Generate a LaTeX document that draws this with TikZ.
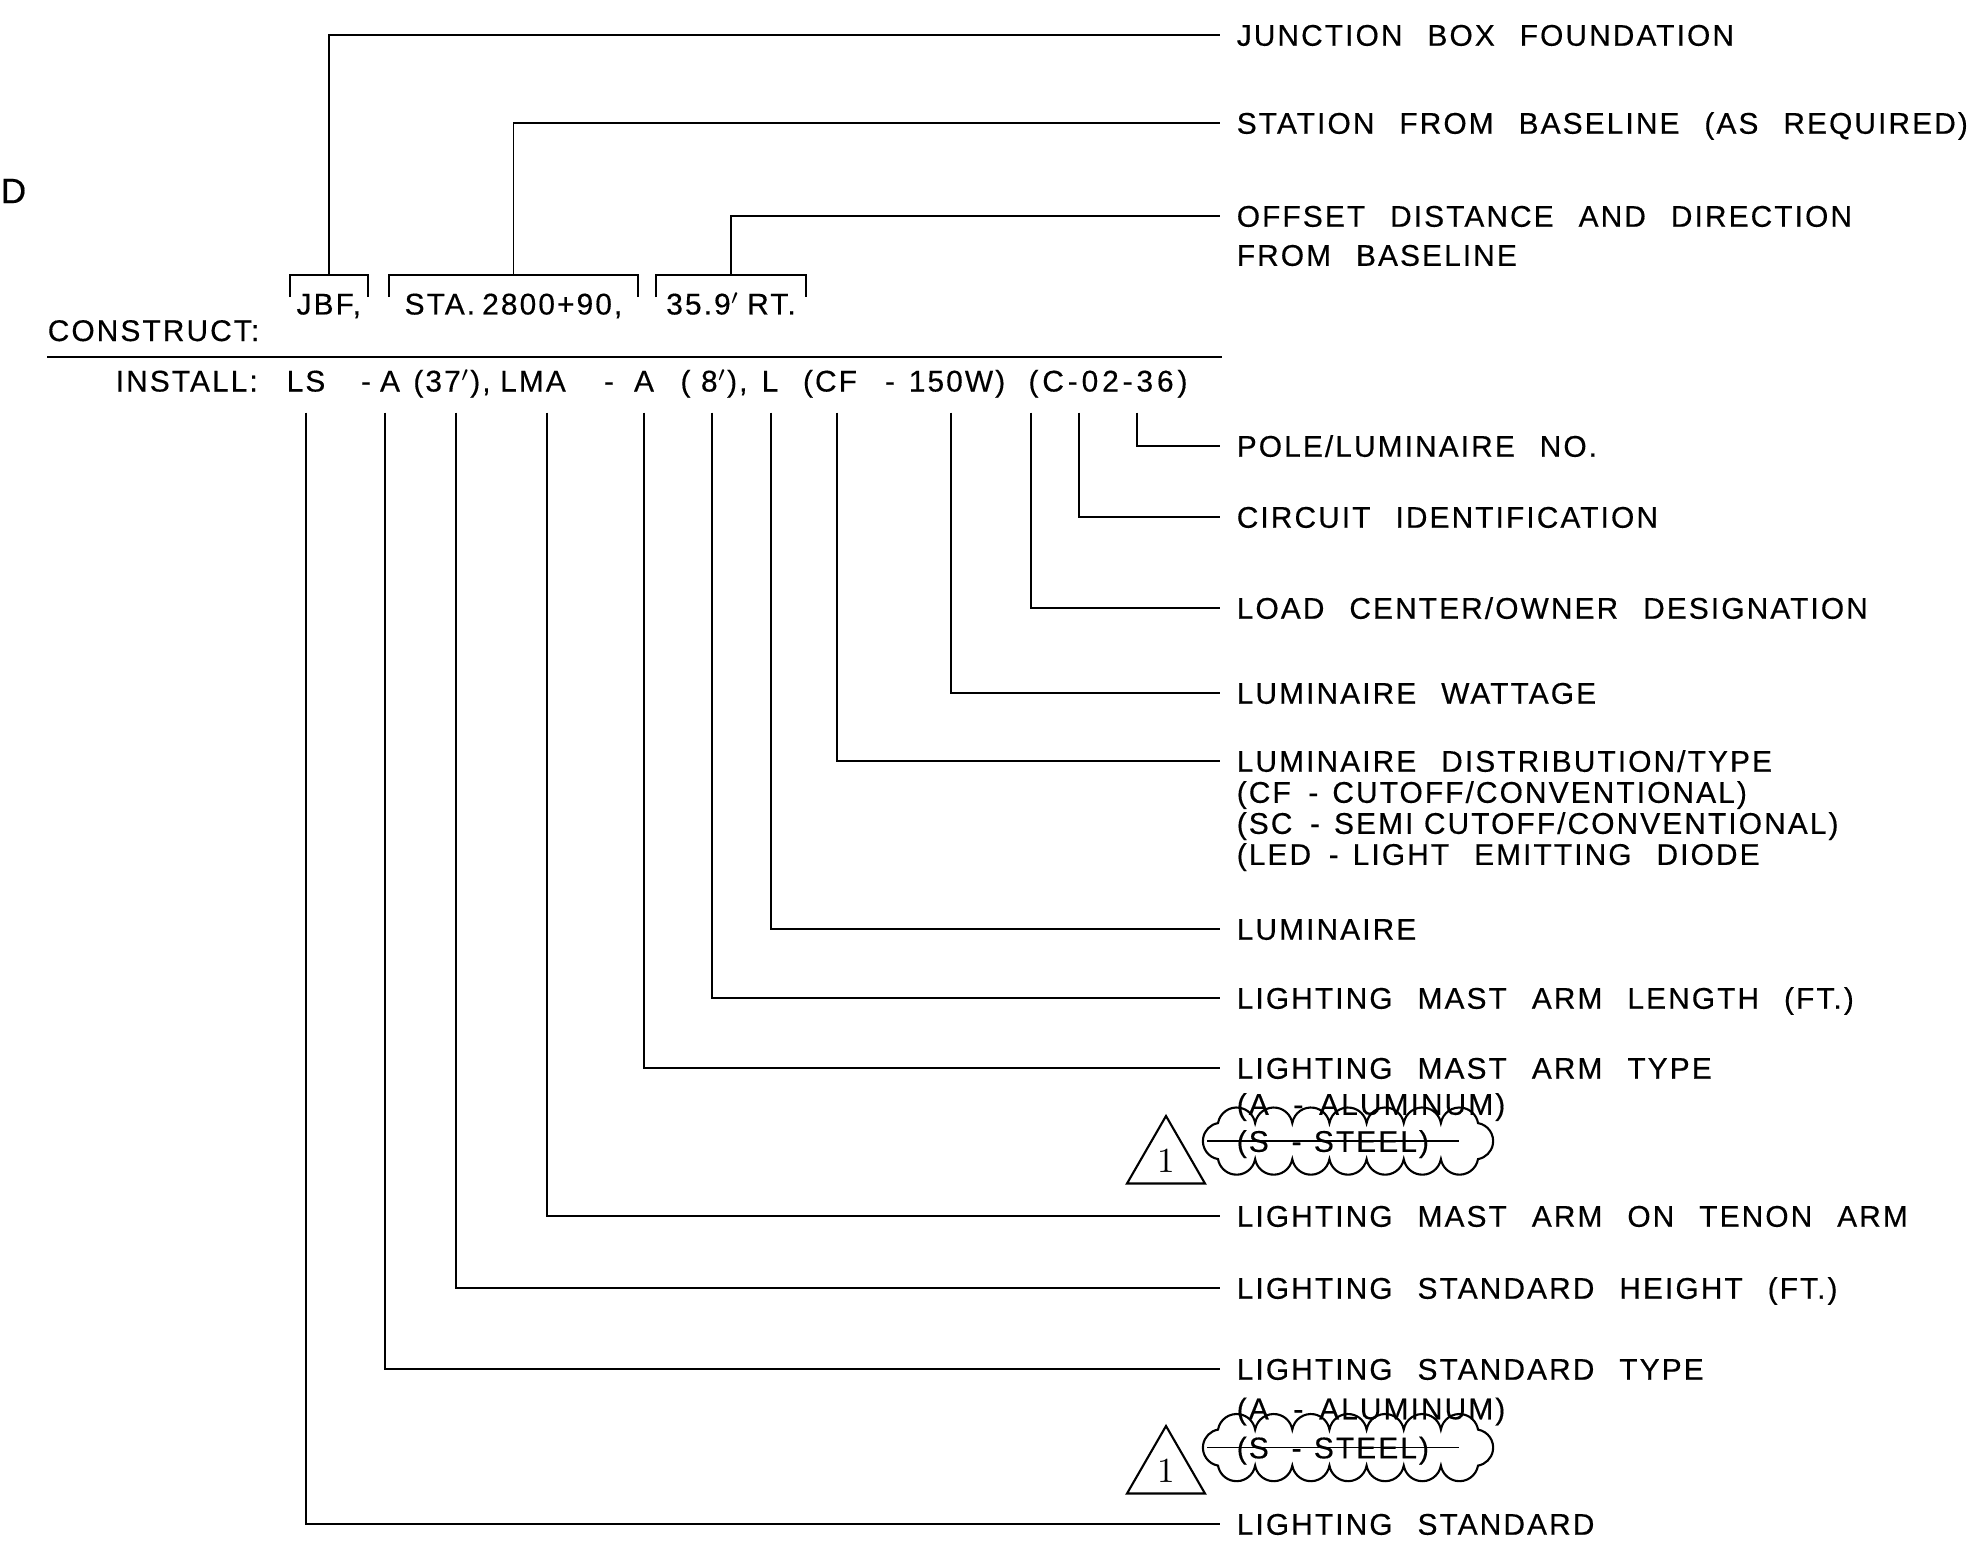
\documentclass[tikz,border=0pt]{standalone}
\usepackage{fontspec}
\newfontfamily\cadfont{Liberation Sans}[LetterSpace=7,WordSpace=2.4,FakeBold=0.4]
\usetikzlibrary{positioning,calc,shapes.geometric}
\newcommand\sgl{\hspace{4pt}}

\tikzset{
    revcloud/.pic={
        \draw [line width=0.6pt] (-130,18)
            \foreach \i in {1,...,7}{ arc[start angle=170, end angle=10, radius=18.86] }
            arc[start angle=80, end angle=-80, radius=18.28]
            \foreach \i in {1,...,7}{ arc[start angle=-10, end angle=-170, radius=18.86] }
            arc[start angle=260, end angle=100, radius=18.28] -- cycle;
    }
}

\begin{document}
\begin{tikzpicture}[
    x=0.01cm, y=0.01cm,
    line width=0.45pt,
    every node/.style={font=\cadfont\fontsize{8.5}{10}\selectfont, inner sep=0pt},
    lbl/.style={anchor=west, inner xsep=4.55pt, text height=6.1pt, text depth=0pt},
    tok/.style={anchor=base, text height=6pt, text depth=5.8pt},
    brk/.style={anchor=north, text height=11pt, text depth=0pt},
    delta/.style={regular polygon, regular polygon sides=3, draw, line width=0.6pt, minimum size=0.9cm, font=\rmfamily\fontsize{10}{12}\selectfont},
    strike/.style={line width=0.4pt}
]
\useasboundingbox (0,0) rectangle (1972,-1542);

\node [anchor=west, font=\cadfont\fontsize{10}{12}\selectfont] (edge) at (0,-191) {D};

\node [anchor=base west] (construct) at (47,-341) {CONSTRUCT:};
\node [brk, minimum width=0.764cm] (cJbf) at (328.8,-275) {JBF,};
\node [brk, minimum width=2.47cm] (cSta) at (513.5,-275) {STA.\hspace{2pt}2800+90,};
\node [brk, minimum width=1.48cm] (cOff) at (731,-275) {35.9$'$\hspace{2pt}RT.};
\foreach \n in {cJbf,cSta,cOff}
    \draw ($(\n.north west)+(0,-22)$) -- (\n.north west) -- (\n.north east) -- ++(0,-22);

\coordinate (ruleL) at (47,-357);
\coordinate (ruleR) at (1222,-357);
\draw (ruleL) -- (ruleR);

\node [tok, anchor=base west] (tInst) at (115,-391.5) {INSTALL:};
\node [tok] (tLS) at (306,-391.5) {LS};
\node [tok] (tDa) at (366,-391.5) {-};
\node [tok] (tA) at (390,-391.5) {A};
\node [tok] (t37) at (452,-391.5) {(37$'$),};
\node [tok] (tLMA) at (533,-391.5) {LMA};
\node [tok] (tDb) at (609,-391.5) {-};
\node [tok] (tArm) at (644,-391.5) {A};
\node [tok] (t8) at (714,-391.5) {(\hspace{3pt}8$'$),};
\node [tok] (tL) at (770,-391.5) {L};
\node [tok] (tCF) at (830,-391.5) {(CF};
\node [tok] (tDc) at (890,-391.5) {-};
\node [tok] (tW) at (957,-391.5) {150W)};
\node [tok] (tCkt) at (1108,-391.5) {\addfontfeature{LetterSpace=13}(C-02-36)};

\node [lbl] (lJbf) at (1220,-35) {JUNCTION BOX FOUNDATION};
\node [lbl] (lSta) at (1220,-123) {STATION FROM BASELINE (AS REQUIRED)};
\node [lbl] (lOff) at (1220,-216) {OFFSET DISTANCE AND DIRECTION};
\node [lbl, below=0.16cm of lOff.south west, anchor=north west] (lOffB) {FROM BASELINE};
\node [lbl] (lPole) at (1220,-446) {POLE/LUMINAIRE NO.};
\node [lbl] (lCirc) at (1220,-517) {CIRCUIT IDENTIFICATION};
\node [lbl] (lLoad) at (1220,-608) {LOAD CENTER/OWNER DESIGNATION};
\node [lbl] (lWatt) at (1220,-693) {LUMINAIRE WATTAGE};
\node [lbl] (lDist) at (1220,-761) {LUMINAIRE DISTRIBUTION/TYPE};
\node [lbl, below=0.08cm of lDist.south west, anchor=north west] (lDistB) {(CF\hspace{5pt}-\sgl CUTOFF/CONVENTIONAL)};
\node [lbl, below=0.08cm of lDistB.south west, anchor=north west] (lDistC) {(SC\hspace{5pt}-\sgl SEMI\hspace{3pt}CUTOFF/CONVENTIONAL)};
\node [lbl, below=0.08cm of lDistC.south west, anchor=north west] (lDistD) {(LED\hspace{5pt}-\sgl LIGHT EMITTING DIODE};
\node [lbl] (lLum) at (1220,-929) {LUMINAIRE};
\node [lbl] (lArmLen) at (1220,-998) {LIGHTING MAST ARM LENGTH (FT.)};
\node [lbl] (lArmType) at (1220,-1068) {LIGHTING MAST ARM TYPE};
\node [lbl, below=0.13cm of lArmType.south west, anchor=north west] (lArmA) {(A\hspace{7pt}-\hspace{4.5pt}ALUMINUM)};
\node [lbl, below=0.14cm of lArmA.south west, anchor=north west] (lArmS) {(S\hspace{6.5pt}-\hspace{3.5pt}STEEL)};
\node [lbl] (lTenon) at (1220,-1216) {LIGHTING MAST ARM ON TENON ARM};
\node [lbl] (lStdHt) at (1220,-1288) {LIGHTING STANDARD HEIGHT (FT.)};
\node [lbl] (lStdType) at (1220,-1369) {LIGHTING STANDARD TYPE};
\node [lbl, below=0.165cm of lStdType.south west, anchor=north west] (lStdA) {(A\hspace{7pt}-\hspace{4.5pt}ALUMINUM)};
\node [lbl, below=0.16cm of lStdA.south west, anchor=north west] (lStdS) {(S\hspace{6.5pt}-\hspace{3.5pt}STEEL)};
\node [lbl] (lStd) at (1220,-1524) {LIGHTING STANDARD};

\draw (cJbf.north) |- (lJbf.west);
\draw (cSta.north) |- (lSta.west);
\draw (cOff.north) |- (lOff.west);

\foreach \t/\l/\dx in {tLS/lStd/0, tA/lStdType/-5, t37/lStdHt/4, tLMA/lTenon/14,
        tArm/lArmType/0, t8/lArmLen/-2, tL/lLum/1, tCF/lDist/7, tW/lWatt/-6,
        tCkt/lLoad/-77, tCkt/lCirc/-29, tCkt/lPole/29}
    \draw ($(\t.south)+(\dx,0)$) |- (\l.west);

\draw [strike] ($(lArmS.west)+(-13,0)$) -- ++(252,0);
\pic at ($(lArmS.west)+(128,0)$) {revcloud};
\node [delta] (rev1) at (1166,-1161) {1};

\draw [strike] ($(lStdS.west)+(-13,0)$) -- ++(252,0);
\pic at ($(lStdS.west)+(128,0)$) {revcloud};
\node [delta] (rev2) at (1166,-1471) {1};
\end{tikzpicture}
\end{document}
